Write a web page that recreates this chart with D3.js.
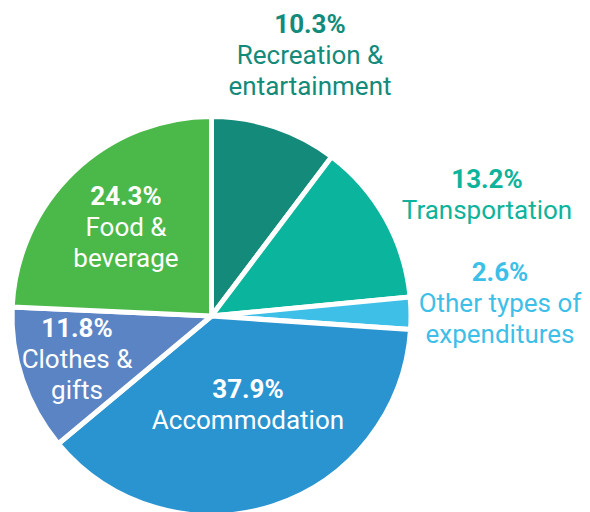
<!DOCTYPE html>
<html lang="en">
<head>
  <meta charset="utf-8">
  <title>Expenditure shares</title>
  <style>
    body { margin: 0; background: #fff; }
    text { font-family: Roboto, "Noto Sans", sans-serif; }
  </style>
  <script src="https://d3js.org/d3.v7.min.js"></script>
</head>
<body>
<svg width="590" height="512"></svg>
<script>
  // data
  var categories = ["Recreation & entartainment", "Transportation", "Other types of expenditures",
                    "Accommodation", "Clothes & gifts", "Food & beverage"];
  var shares = [10.3, 13.2, 2.6, 37.9, 11.8, 24.3];
  var labelLines = [["Recreation &", "entartainment"], ["Transportation"], ["Other types of", "expenditures"],
                    ["Accommodation"], ["Clothes &", "gifts"], ["Food &", "beverage"]];
  var colors = ["#138a7a", "#0bb49c", "#3dbfe8", "#2a94d0", "#5b84c4", "#4bb84a"];
  var labelColors = ["#138a7a", "#0db39a", "#3dbfe8", "#fff", "#fff", "#fff"];
  // label anchor (centre x, baseline of first line)
  var labelPos = [[310, 33], [487, 188], [500, 281], [248, 398], [77, 337], [126, 205]];

  var svg = d3.select("svg"),
      cx = 211.5, cy = 316, radius = 199.5,
      fontSize = 26, lineGap = 31;

  var data = shares.map(function(v, i) { return { name: categories[i], value: v, i: i }; });

  var pie = d3.pie().sort(null).value(function(d) { return d.value; });
  var arc = d3.arc().innerRadius(0).outerRadius(radius);

  var g = svg.append("g").attr("transform", "translate(" + cx + "," + cy + ")");

  // slices, white stroke gives the gaps
  g.selectAll("path")
   .data(pie(data))
   .enter().append("path")
   .attr("d", arc)
   .attr("fill", function(d) { return colors[d.data.i]; })
   .attr("stroke", "#fff")
   .attr("stroke-width", 5)
   .attr("stroke-linejoin", "round");

  // labels
  var labels = svg.selectAll(".lbl")
    .data(data)
    .enter().append("text")
    .attr("class", "lbl")
    .attr("text-anchor", "middle")
    .attr("font-size", fontSize + "px")
    .attr("fill", function(d) { return labelColors[d.i]; });

  labels.append("tspan")
    .attr("x", function(d) { return labelPos[d.i][0]; })
    .attr("y", function(d) { return labelPos[d.i][1]; })
    .attr("font-weight", "bold")
    .text(function(d) { return d.value.toFixed(1) + "%"; });

  labels.each(function(d) {
    var t = d3.select(this);
    labelLines[d.i].forEach(function(line, k) {
      t.append("tspan")
       .attr("x", labelPos[d.i][0])
       .attr("y", labelPos[d.i][1] + lineGap * (k + 1))
       .text(line);
    });
  });
</script>
</body>
</html>
